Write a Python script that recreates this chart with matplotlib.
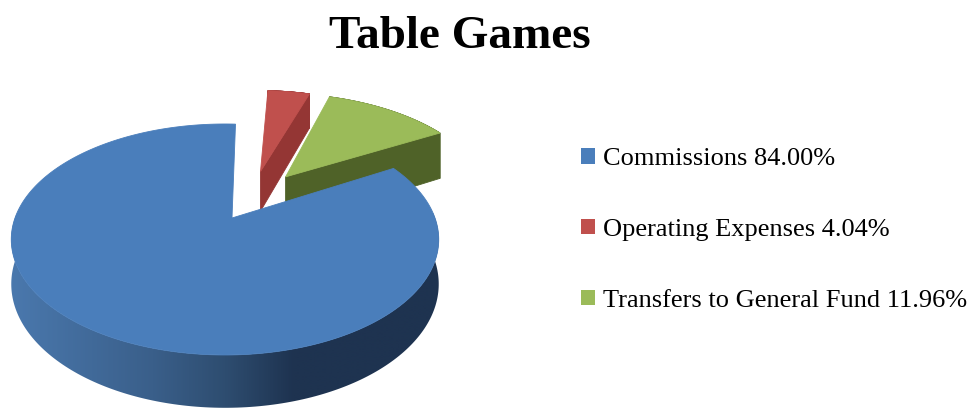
import numpy as np
import matplotlib
matplotlib.use('Agg')
import matplotlib.pyplot as plt
from matplotlib.collections import PolyCollection
from matplotlib.colors import LinearSegmentedColormap
from matplotlib.patches import Patch, Polygon

title = 'Table Games'
categories = ['Commissions', 'Operating Expenses', 'Transfers to General Fund']
shares = [84.00, 4.04, 11.96]

colors = ['#4a7ebb', '#c0504d', '#9bbb59']
wall_colors = ['#1e3350', '#943634', '#4f6228']
explode = [0.0, 0.46, 0.46]
nudge = [(0, 0), (19, 0), (3, -4)]   # small screen shift per slice
apex_nudge = [(7, 0), (0, 0), (0, 0)]
wall_scale = [1.0, 1.0, 1.22]

START = 29.0   # degrees, slices run clockwise
CX, CY = 225, 218
A, B, K, DEPTH = 111.5, 210, 0.186, 43

blue_wall = LinearSegmentedColormap.from_list(
    'blue_wall', [(0, '#4a78ad'), (0.33, '#3a5f8a'), (0.5, '#2e4d70'), (0.66, '#1e3350'), (1, '#1e3350')])


def project(u, v, dz=0.0, shift=(0, 0)):
    # plane of the pie -> screen, with a bit of perspective
    w = 1 + K * v
    return CX + shift[0] + B * u / w, CY + shift[1] - (A * v - dz * DEPTH) / w


fig = plt.figure(figsize=(9.72, 4.08), dpi=100)
ax = fig.add_axes([0, 0, 1, 1])
ax.set_xlim(0, 972)
ax.set_ylim(408, 0)
ax.axis('off')

# slice angles out of the shares
fracs = np.array(shares) / sum(shares) * 360
ends = START - np.cumsum(fracs)
starts = ends + fracs

# red and green first, the big slice sits in front of them
for i in [1, 2, 0]:
    mid = np.radians((starts[i] + ends[i]) / 2)
    u0 = explode[i] * np.cos(mid)
    v0 = explode[i] * np.sin(mid)
    t = np.radians(np.linspace(starts[i], ends[i], 300))
    u = u0 + np.cos(t)
    v = v0 + np.sin(t)

    # outer wall
    xt, yt = project(u, v, 0, nudge[i])
    xb, yb = project(u, v, wall_scale[i], nudge[i])
    if i == 0:
        # only the front of the big slice shows, shaded left to right
        front = v < 0.05
        outline = np.column_stack([np.r_[xt[front], xb[front][::-1]], np.r_[yt[front], yb[front][::-1]]])
        wall = Polygon(outline, facecolor='none', edgecolor='none')
        ax.add_patch(wall)
        img = ax.imshow(np.linspace(0, 1, 428).reshape(1, -1), cmap=blue_wall, extent=(11, 439, 408, 200),
                        aspect='auto', interpolation='bilinear')
        img.set_clip_path(wall)
        ax.set_xlim(0, 972)
        ax.set_ylim(408, 0)
    else:
        quads = [[(xt[j], yt[j]), (xt[j + 1], yt[j + 1]), (xb[j + 1], yb[j + 1]), (xb[j], yb[j])]
                 for j in range(len(t) - 1)]
        ax.add_collection(PolyCollection(quads, facecolors=wall_colors[i], edgecolors=wall_colors[i],
                                         linewidths=0.6))

    # flat cut wall on the clockwise side
    if i != 0:
        xa, ya = project(u0, v0, 0, nudge[i])
        xa2, ya2 = project(u0, v0, wall_scale[i], nudge[i])
        ax.add_patch(Polygon([(xa, ya), (xt[-1], yt[-1]), (xb[-1], yb[-1]), (xa2, ya2)],
                             facecolor=wall_colors[i], edgecolor=wall_colors[i], linewidth=0.6))

    # top face
    xa, ya = project(u0, v0, 0, nudge[i])
    top = np.column_stack([np.r_[xa + apex_nudge[i][0], xt], np.r_[ya + apex_nudge[i][1], yt]])
    ax.add_patch(Polygon(top, facecolor=colors[i], edgecolor=colors[i], linewidth=0.6, zorder=3))

ax.text(460, 37, title, ha='center', va='center', fontsize=34, fontweight='bold',
        family='Liberation Serif')

handles = [Patch(facecolor=c, edgecolor='none') for c in colors]
labels = [f'{c} {s:.2f}%' for c, s in zip(categories, shares)]
ax.legend(handles, labels, loc='upper left', bbox_to_anchor=(581 / 972, 1 - 148 / 408), frameon=False,
          prop={'family': 'Liberation Serif', 'size': 19}, handlelength=0.53, handleheight=0.53,
          handletextpad=0.3, labelspacing=1.845, borderpad=0, borderaxespad=0)

fig.savefig('out.png', dpi=100)
